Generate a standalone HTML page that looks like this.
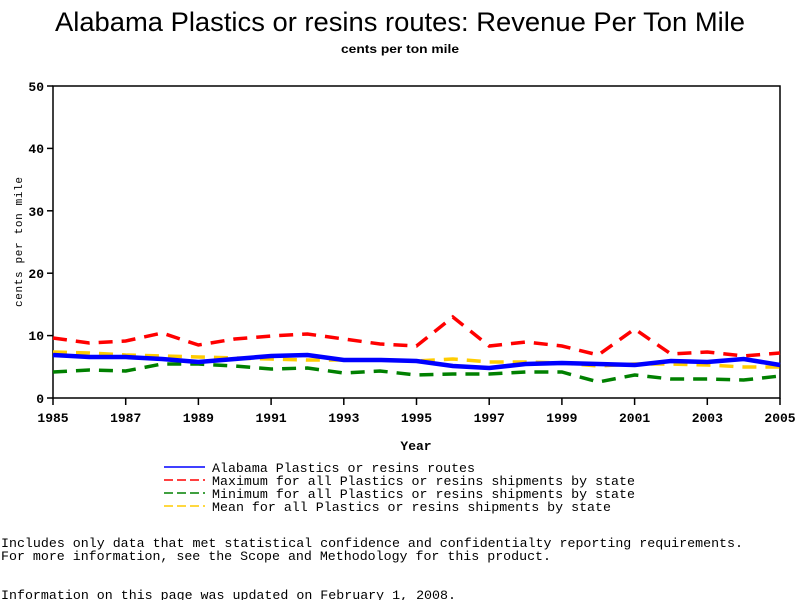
<!DOCTYPE html>
<html><head><style>body{margin:0;background:#fff}svg{display:block}</style></head><body>
<svg width="800" height="600" xmlns="http://www.w3.org/2000/svg" font-family="Liberation Sans, sans-serif">
<rect width="800" height="600" fill="#fff"/>
<text x="400" y="31" font-size="27" text-anchor="middle" textLength="690" lengthAdjust="spacingAndGlyphs">Alabama Plastics or resins routes: Revenue Per Ton Mile</text>
<text x="400" y="53" font-size="12" font-weight="bold" text-anchor="middle" textLength="118" lengthAdjust="spacingAndGlyphs">cents per ton mile</text>
<rect x="53" y="86" width="727" height="312" fill="none" stroke="#000" stroke-width="1.5"/>
<g stroke="#000" stroke-width="1.5">
<line x1="47" y1="86" x2="53" y2="86"/><line x1="47" y1="148.4" x2="53" y2="148.4"/><line x1="47" y1="210.8" x2="53" y2="210.8"/><line x1="47" y1="273.2" x2="53" y2="273.2"/><line x1="47" y1="335.6" x2="53" y2="335.6"/><line x1="47" y1="398" x2="53" y2="398"/>
<line x1="53" y1="398" x2="53" y2="405"/><line x1="125.7" y1="398" x2="125.7" y2="405"/><line x1="198.4" y1="398" x2="198.4" y2="405"/><line x1="271.1" y1="398" x2="271.1" y2="405"/><line x1="343.8" y1="398" x2="343.8" y2="405"/><line x1="416.5" y1="398" x2="416.5" y2="405"/><line x1="489.2" y1="398" x2="489.2" y2="405"/><line x1="561.9" y1="398" x2="561.9" y2="405"/><line x1="634.6" y1="398" x2="634.6" y2="405"/><line x1="707.3" y1="398" x2="707.3" y2="405"/><line x1="780" y1="398" x2="780" y2="405"/>
</g>
<g font-family="Liberation Mono, monospace" font-size="13" font-weight="bold" text-anchor="end">
<text x="44" y="91">50</text><text x="44" y="153">40</text><text x="44" y="216">30</text><text x="44" y="278">20</text><text x="44" y="340">10</text><text x="44" y="403">0</text>
</g>
<g font-family="Liberation Mono, monospace" font-size="13" font-weight="bold" text-anchor="middle">
<text x="53" y="422">1985</text><text x="125.7" y="422">1987</text><text x="198.4" y="422">1989</text><text x="271.1" y="422">1991</text><text x="343.8" y="422">1993</text><text x="416.5" y="422">1995</text><text x="489.2" y="422">1997</text><text x="561.9" y="422">1999</text><text x="634.6" y="422">2001</text><text x="707.3" y="422">2003</text><text x="780" y="422">2005</text>
<text x="416" y="450">Year</text>
<text transform="translate(22,242) rotate(-90)" font-size="11" font-weight="normal" textLength="130" lengthAdjust="spacing">cents per ton mile</text>
</g>
<g fill="none" stroke-width="3.5">
<polyline stroke="#ff0000" stroke-dasharray="14,9" points="53,338 89.35,343 125.7,341 162.05,333 198.4,345 234.75,339 271.1,336 307.45,334 343.8,339 380.15,344 416.5,346 452.85,317 489.2,346 525.55,342 561.9,346 598.25,355 634.6,329 670.95,354 707.3,352 743.65,356 780,353"/>
<polyline stroke="#008000" stroke-dasharray="14,9" points="53,372 89.35,370 125.7,371 162.05,364 198.4,364 234.75,366 271.1,369 307.45,368 343.8,373 380.15,371 416.5,375 452.85,374 489.2,374 525.55,372 561.9,372 598.25,382 634.6,375 670.95,379 707.3,379 743.65,380 780,376"/>
<polyline stroke="#ffcc00" stroke-dasharray="14,9" points="53,352 89.35,353 125.7,355 162.05,356 198.4,357 234.75,358 271.1,359 307.45,360 343.8,360 380.15,360 416.5,361 452.85,359 489.2,362 525.55,362 561.9,363 598.25,366 634.6,364 670.95,364 707.3,365 743.65,367 780,367"/>
<polyline stroke="#0000ff" stroke-width="4.5" points="53,355 89.35,357 125.7,357 162.05,359 198.4,362 234.75,359 271.1,356 307.45,355 343.8,360 380.15,360 416.5,361 452.85,366 489.2,368 525.55,364 561.9,363 598.25,364 634.6,365 670.95,361 707.3,362 743.65,359 780,365"/>
</g>
<g stroke-width="1.5">
<line x1="164" y1="467" x2="205" y2="467" stroke="#0000ff"/>
<line x1="164" y1="480" x2="205" y2="480" stroke="#ff0000" stroke-dasharray="9,4"/>
<line x1="164" y1="493" x2="205" y2="493" stroke="#008000" stroke-dasharray="9,4"/>
<line x1="164" y1="506" x2="205" y2="506" stroke="#ffcc00" stroke-dasharray="9,4"/>
</g>
<g font-family="Liberation Mono, monospace" font-size="13">
<text x="212" y="472" textLength="263" lengthAdjust="spacingAndGlyphs">Alabama Plastics or resins routes</text>
<text x="212" y="485" textLength="423" lengthAdjust="spacingAndGlyphs">Maximum for all Plastics or resins shipments by state</text>
<text x="212" y="498" textLength="423" lengthAdjust="spacingAndGlyphs">Minimum for all Plastics or resins shipments by state</text>
<text x="212" y="511" textLength="399" lengthAdjust="spacingAndGlyphs">Mean for all Plastics or resins shipments by state</text>
<text x="1" y="547" textLength="742" lengthAdjust="spacingAndGlyphs">Includes only data that met statistical confidence and confidentialty reporting requirements.</text>
<text x="1" y="560" textLength="550" lengthAdjust="spacingAndGlyphs">For more information, see the Scope and Methodology for this product.</text>
<text x="1" y="599" textLength="455" lengthAdjust="spacingAndGlyphs">Information on this page was updated on February 1, 2008.</text>
</g>
</svg>
</body></html>
